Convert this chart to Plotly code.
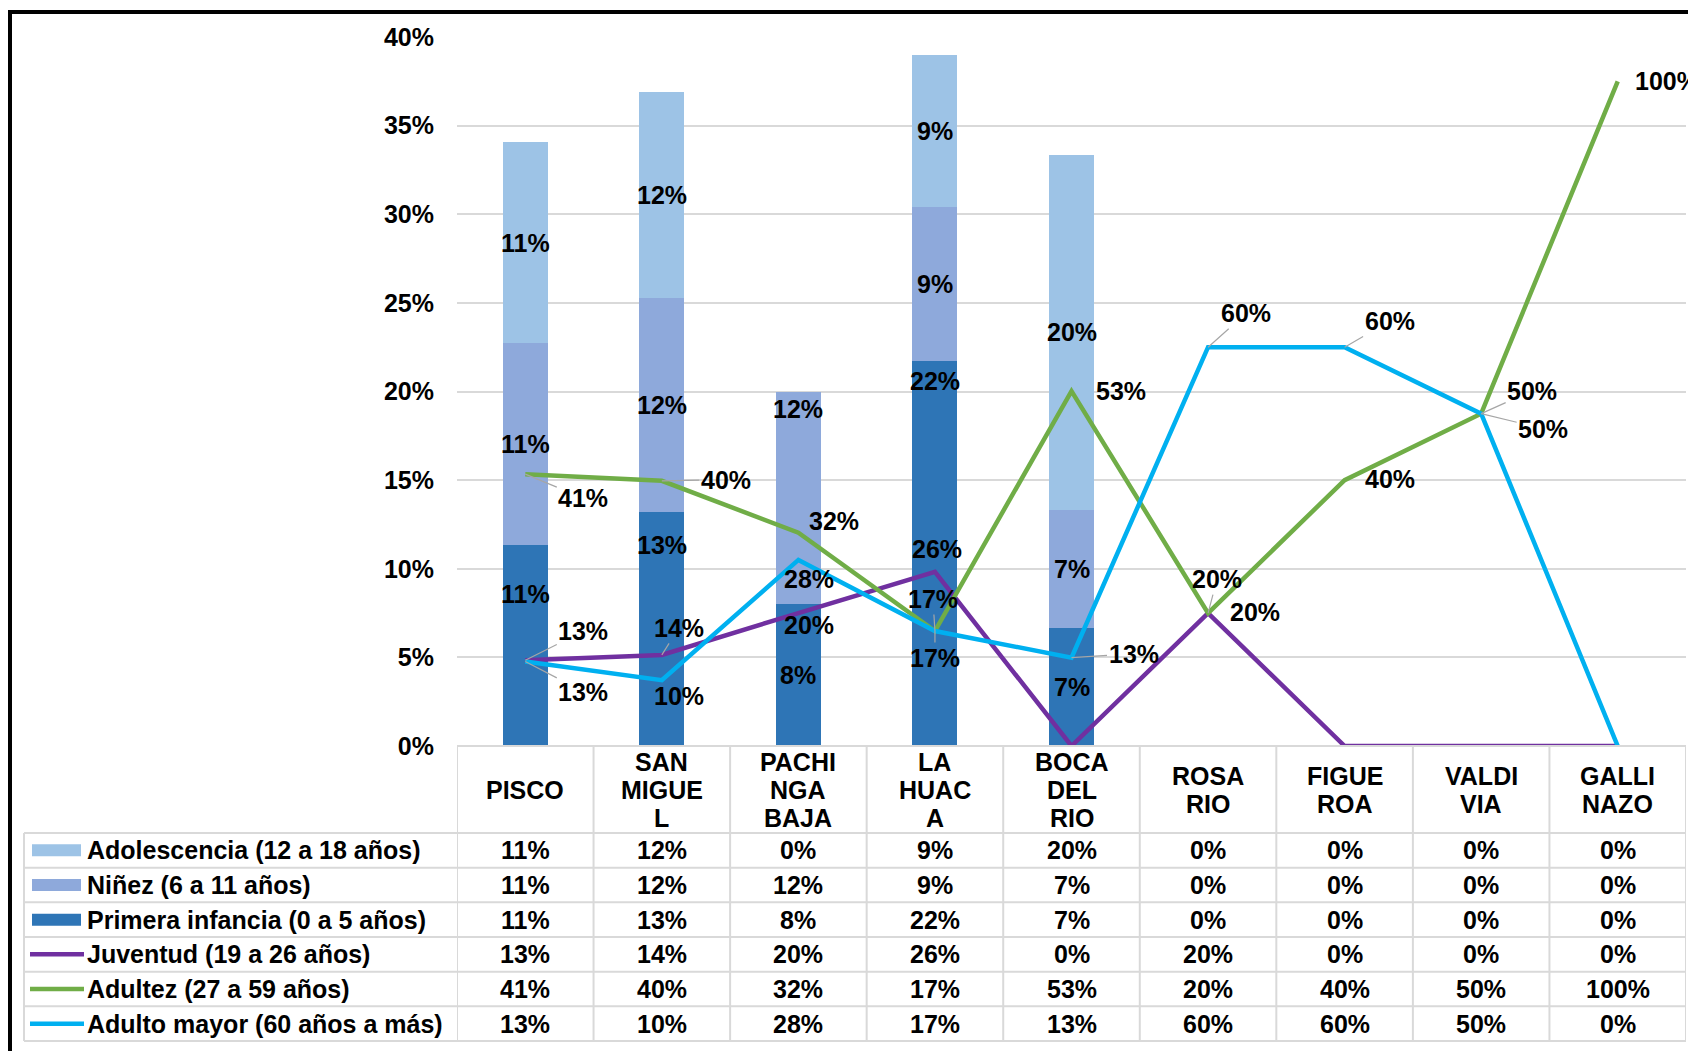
import plotly.graph_objects as go

# ---------------- data ----------------
categories = ["PISCO", "SAN MIGUEL", "PACHINGA BAJA", "LA HUACA", "BOCA DEL RIO",
              "ROSARIO", "FIGUEROA", "VALDIVIA", "GALLINAZO"]
header_labels = ["PISCO", "SAN\nMIGUE\nL", "PACHI\nNGA\nBAJA", "LA\nHUAC\nA", "BOCA\nDEL\nRIO",
                 "ROSA\nRIO", "FIGUE\nROA", "VALDI\nVIA", "GALLI\nNAZO"]

adolescencia = [0.1136, 0.116, 0.0, 0.086, 0.200, 0.0, 0.0, 0.0, 0.0]
ninez = [0.1136, 0.121, 0.120, 0.087, 0.0667, 0.0, 0.0, 0.0, 0.0]
primera_infancia = [0.1136, 0.132, 0.080, 0.217, 0.0667, 0.0, 0.0, 0.0, 0.0]
juventud = [0.129, 0.137, 0.200, 0.262, 0.0, 0.200, 0.0, 0.0, 0.0]
adultez = [0.409, 0.399, 0.321, 0.173, 0.534, 0.200, 0.400, 0.500, 1.000]
adulto_mayor = [0.127, 0.099, 0.280, 0.173, 0.133, 0.600, 0.600, 0.500, 0.0]

series_names = ["Adolescencia (12 a 18 años)", "Niñez (6 a 11 años)", "Primera infancia (0 a 5 años)",
                "Juventud (19 a 26 años)", "Adultez (27 a 59 años)", "Adulto mayor (60 años a más)"]

# ---------------- styles ----------------
FONT = "Liberation Sans, Arial, sans-serif"
FS = 25
FW = "bold"
C_ADOL = "#9DC3E6"
C_NIN = "#8EA9DB"
C_PRIM = "#2E75B6"
C_JUV = "#7030A0"
C_ADU = "#70AD47"
C_MAY = "#00B0F0"
GRID = "#d9d9d9"

BODY = 8  # default page margin of the html body
W, H = 1696 - BODY, 1051 - BODY
L, R, T, B = 457 - BODY, 10, 37 - BODY, 305
PW, PH = W - L - R, H - T - B


def px(xp):  # page pixel -> paper x
    return (xp - BODY - L) / PW


def py(yp):  # page pixel -> paper y
    return (H - B - (yp - BODY)) / PH


def pct(v):
    return f"{v:.0%}"


def tfont():
    return dict(family=FONT, size=FS, color="black", weight=FW)


fig = go.Figure()

bar_series = [(series_names[2], primera_infancia, C_PRIM),
              (series_names[1], ninez, C_NIN),
              (series_names[0], adolescencia, C_ADOL)]
for name, vals, col in bar_series:
    fig.add_trace(go.Bar(x=categories, y=vals, name=name, marker=dict(color=col, line=dict(width=0)),
                         yaxis="y", showlegend=False))

line_series = [(series_names[3], juventud, C_JUV),
               (series_names[4], adultez, C_ADU),
               (series_names[5], adulto_mayor, C_MAY)]
for name, vals, col in line_series:
    fig.add_trace(go.Scatter(x=categories, y=vals, name=name, mode="lines", yaxis="y2",
                             line=dict(color=col, width=4.5), cliponaxis=False, showlegend=False))

annotations = []
shapes = []

# bar data labels (centred in segment, some moved manually as in the original)
bar_label_shift = {("prim", 0): 51, ("prim", 1): 84, ("prim", 3): 173, ("nin", 2): 89}
for i, cat in enumerate(categories):
    base = 0.0
    for key, vals in (("prim", primera_infancia), ("nin", ninez), ("adol", adolescencia)):
        v = vals[i]
        if v > 0:
            annotations.append(dict(x=cat, y=base + v / 2, xref="x", yref="y", text=pct(v),
                                    showarrow=False, yshift=bar_label_shift.get((key, i), 0),
                                    font=tfont()))
        base += v

# line data labels: (dx, dy, leader)
line_label_pos = {
    "juv": [(58, -29, True), (17, -27, True), (11, 12, False), (2, -23, False), None,
            (47, -1, False), None, None, None],
    "adu": [(58, 24, True), (64, -1, True), (36, -12, False), (-2, -32, True), (49, 0, False),
            (9, -34, True), (45, -1, False), (51, -23, True), (49, 0, False)],
    "may": [(58, 30, True), (17, 16, False), (11, 19, False), (0, 27, True), (62, -4, True),
            (38, -34, True), (45, -26, True), (62, 15, True), None],
}
for key, vals in (("juv", juventud), ("adu", adultez), ("may", adulto_mayor)):
    for i, cat in enumerate(categories):
        pos = line_label_pos[key][i]
        if pos is None or vals[i] == 0:
            continue
        dx, dy, leader = pos
        annotations.append(dict(x=cat, y=vals[i], xref="x", yref="y2", text=pct(vals[i]),
                                showarrow=True, ax=dx, ay=dy, arrowhead=0, arrowwidth=1.2,
                                standoff=0,
                                arrowcolor="#a6a6a6" if leader else "rgba(0,0,0,0)",
                                font=tfont()))

# ---------------- data table ----------------
HEAD_TOP, HEAD_BOT = 746, 833
ROW_H = (1041 - 833) / 6
TAB_L = 24
table_line = dict(color=GRID, width=2)

for r in range(7):
    yv = py(HEAD_BOT + r * ROW_H)
    shapes.append(dict(type="line", xref="paper", yref="paper", x0=px(TAB_L), x1=1, y0=yv, y1=yv,
                       line=table_line))
shapes.append(dict(type="line", xref="paper", yref="paper", x0=0, x1=1, y0=py(HEAD_TOP), y1=py(HEAD_TOP),
                   line=table_line))
for k in range(len(categories) + 1):
    shapes.append(dict(type="line", xref="x", yref="paper", x0=k - 0.5, x1=k - 0.5,
                       y0=py(HEAD_TOP), y1=py(1041), line=table_line))
shapes.append(dict(type="line", xref="paper", yref="paper", x0=px(TAB_L), x1=px(TAB_L),
                   y0=py(HEAD_BOT), y1=py(1041), line=table_line))

# header labels
HEAD_C = (HEAD_TOP + HEAD_BOT) / 2
LINE_SP = 28
for cat, lab in zip(categories, header_labels):
    parts = lab.split("\n")
    n = len(parts)
    for j, part in enumerate(parts):
        yc = HEAD_C + (j - (n - 1) / 2) * LINE_SP
        annotations.append(dict(x=cat, y=py(yc), xref="x", yref="paper", text=part, showarrow=False,
                                yanchor="middle", font=tfont()))

# rows
row_data = [(series_names[0], adolescencia, C_ADOL, "rect"),
            (series_names[1], ninez, C_NIN, "rect"),
            (series_names[2], primera_infancia, C_PRIM, "rect"),
            (series_names[3], juventud, C_JUV, "line"),
            (series_names[4], adultez, C_ADU, "line"),
            (series_names[5], adulto_mayor, C_MAY, "line")]
for r, (name, vals, col, kind) in enumerate(row_data):
    yc = HEAD_BOT + (r + 0.5) * ROW_H
    if kind == "rect":
        shapes.append(dict(type="rect", xref="paper", yref="paper", x0=px(32), x1=px(81),
                           y0=py(yc - 6), y1=py(yc + 6), fillcolor=col, line=dict(width=0)))
    else:
        shapes.append(dict(type="line", xref="paper", yref="paper", x0=px(30), x1=px(84),
                           y0=py(yc), y1=py(yc), line=dict(color=col, width=4.5)))
    annotations.append(dict(x=px(85), y=py(yc), xref="paper", yref="paper", text=name, showarrow=False,
                            xanchor="left", yanchor="middle", font=tfont()))
    for i, cat in enumerate(categories):
        annotations.append(dict(x=cat, y=py(yc), xref="x", yref="paper", text=pct(vals[i]),
                                showarrow=False, yanchor="middle", font=tfont()))

# outer frame (cropped on the right and bottom like the original)
shapes.append(dict(type="rect", xref="paper", yref="paper", x0=px(10), x1=px(1720), y0=py(12), y1=py(1080),
                   line=dict(color="black", width=4), fillcolor="rgba(0,0,0,0)", layer="above"))

fig.update_layout(
    width=W, height=H,
    margin=dict(l=L, r=R, t=T, b=B, pad=0),
    paper_bgcolor="white", plot_bgcolor="white",
    barmode="stack", bargap=0.67,
    showlegend=False,
    font=dict(family=FONT, size=FS, color="black"),
    xaxis=dict(type="category", range=[-0.5, len(categories) - 0.5], showticklabels=False,
               showgrid=False, showline=False, zeroline=False, ticks=""),
    yaxis=dict(range=[0, 0.40], dtick=0.05, tickformat=".0%", showgrid=True, gridcolor=GRID, gridwidth=2,
               zeroline=False, showline=False, ticks="", ticklabelstandoff=22,
               tickfont=tfont()),
    yaxis2=dict(range=[0, 0.40 / 0.375], overlaying="y", side="right", visible=False, showgrid=False,
                zeroline=False),
    annotations=annotations,
    shapes=shapes,
)

fig.write_html("out.html")
